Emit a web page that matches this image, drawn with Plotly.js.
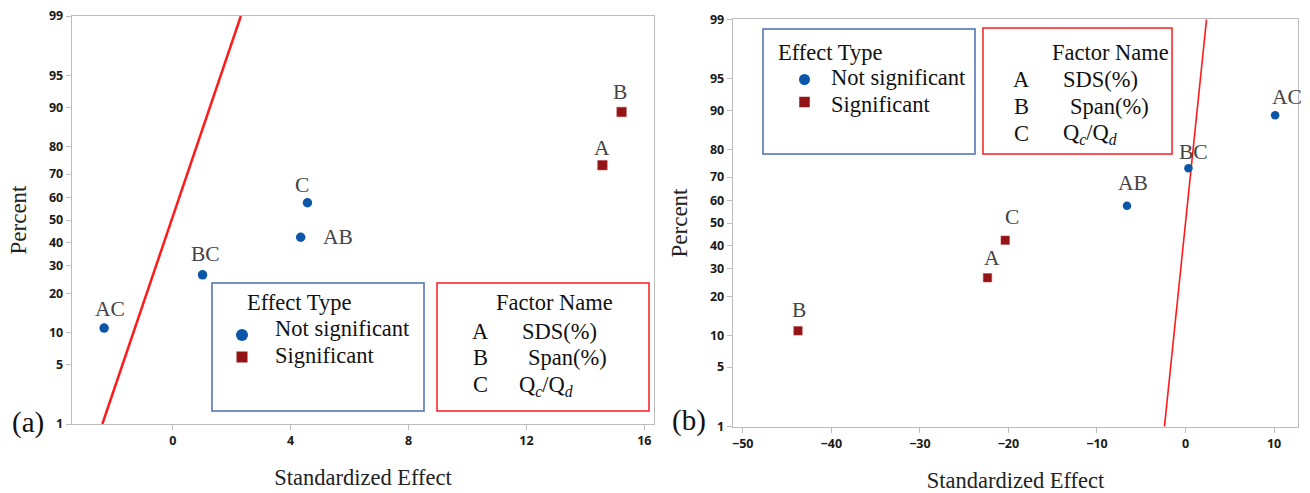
<!DOCTYPE html>
<html>
<head>
<meta charset="utf-8">
<script src="https://cdn.plot.ly/plotly-3.0.1.min.js"></script>
<style>html,body{margin:0;padding:0;background:#fff;}#chart{width:1310px;height:493px;}</style>
</head>
<body>
<div id="chart"></div>
<script>
// ---------- data ----------
const percentTicks = [1, 5, 10, 20, 30, 40, 50, 60, 70, 80, 90, 95, 99];
const percentTickText = ['1', '5', '10', '20', '30', '40', '50', '60', '70', '80', '90', '95', '99'];

// panel (a)
const labelsA = ['AC', 'BC', 'AB', 'C', 'A', 'B'];
const effectA = [-2.33, 1.01, 4.34, 4.57, 14.58, 15.23];
const percentA = [10.9, 26.6, 42.2, 57.8, 73.4, 89.1];
const significantA = [false, false, false, false, true, true];
const refLineEffectA = [-2.39, 2.31];
const refLinePercentA = [1, 99];
const xTicksA = [0, 4, 8, 12, 16];

// panel (b)
const labelsB = ['B', 'A', 'C', 'AB', 'BC', 'AC'];
const effectB = [-43.76, -22.36, -20.36, -6.61, 0.33, 10.12];
const percentB = [10.9, 26.6, 42.2, 57.8, 73.4, 89.1];
const significantB = [true, true, true, false, false, false];
const refLineEffectB = [-2.38, 2.37];
const refLinePercentB = [1, 99];
const xTicksB = [-50, -40, -30, -20, -10, 0, 10];

// legend texts
const effectTypeTitle = 'Effect Type';
const effectTypes = ['Not significant', 'Significant'];
const factorTitle = 'Factor Name';
const factorLetters = ['A', 'B', 'C'];
const factorNames = ['SDS(%)', 'Span(%)', 'Q<sub><i>c</i></sub>/Q<sub><i>d</i></sub>'];

// ---------- normal probability scale ----------
function normInv(p) {
  const a = [-3.969683028665376e+01, 2.209460984245205e+02, -2.759285104469687e+02, 1.383577518672690e+02, -3.066479806614716e+01, 2.506628277459239e+00];
  const b = [-5.447609879822406e+01, 1.615858368580409e+02, -1.556989798598866e+02, 6.680131188771972e+01, -1.328068155288572e+01];
  const c = [-7.784894002430293e-03, -3.223964580411365e-01, -2.400758277161838e+00, -2.549732539343734e+00, 4.374664141464968e+00, 2.938163982698783e+00];
  const d = [7.784695709041462e-03, 3.224671290700398e-01, 2.445134137142996e+00, 3.754408661907416e+00];
  const pl = 0.02425, ph = 1 - pl;
  let q, r;
  if (p < pl) { q = Math.sqrt(-2 * Math.log(p)); return (((((c[0]*q+c[1])*q+c[2])*q+c[3])*q+c[4])*q+c[5]) / ((((d[0]*q+d[1])*q+d[2])*q+d[3])*q+1); }
  if (p <= ph) { q = p - 0.5; r = q*q; return (((((a[0]*r+a[1])*r+a[2])*r+a[3])*r+a[4])*r+a[5])*q / (((((b[0]*r+b[1])*r+b[2])*r+b[3])*r+b[4])*r+1); }
  q = Math.sqrt(-2 * Math.log(1 - p)); return -(((((c[0]*q+c[1])*q+c[2])*q+c[3])*q+c[4])*q+c[5]) / ((((d[0]*q+d[1])*q+d[2])*q+d[3])*q+1);
}
const z = pct => normInv(pct / 100);

// ---------- styles ----------
const W = 1310, H = 493;
const PX = x => x / W, PY = y => 1 - y / H;
const BLUE = '#0b56a8', DARKRED = '#921414', RED = '#ff1a1a';
const SERIF = 'Liberation Serif, Times New Roman, serif';
const SANS = 'Open Sans, Noto Sans, sans-serif';
const AXIS_GRAY = '#bdbdbd';
const LEG = 22.5;

// label offsets in px (dx, dy up)
const labelOffA = {AC: [6, 19], BC: [3, 21], AB: [37, 0], C: [-5, 18], A: [0, 17], B: [-2, 20]};
const labelOffB = {B: [1, 21], A: [4, 20], C: [7, 23], AB: [6, 23], BC: [5, 16], AC: [12, 18]};

function pointTraces(eff, pct, sig, xa, ya, size) {
  const idxN = [], idxS = [];
  sig.forEach((s, i) => (s ? idxS : idxN).push(i));
  return [
    {type: 'scatter', mode: 'markers', xaxis: xa, yaxis: ya, x: idxN.map(i => eff[i]), y: idxN.map(i => z(pct[i])),
     marker: {symbol: 'circle', size: size, color: BLUE}, hoverinfo: 'skip'},
    {type: 'scatter', mode: 'markers', xaxis: xa, yaxis: ya, x: idxS.map(i => eff[i]), y: idxS.map(i => z(pct[i])),
     marker: {symbol: 'square', size: size, color: DARKRED, line: {color: '#b84a4a', width: 0.6}}, hoverinfo: 'skip'}
  ];
}

const data = [
  {type: 'scatter', mode: 'lines', xaxis: 'x', yaxis: 'y', x: refLineEffectA, y: refLinePercentA.map(z),
   line: {color: RED, width: 2.5}, hoverinfo: 'skip'},
  ...pointTraces(effectA, percentA, significantA, 'x', 'y', 9.5),
  {type: 'scatter', mode: 'lines', xaxis: 'x2', yaxis: 'y2', x: refLineEffectB, y: refLinePercentB.map(z),
   line: {color: RED, width: 1.6}, hoverinfo: 'skip'},
  ...pointTraces(effectB, percentB, significantB, 'x2', 'y2', 8.5)
];

const annotations = [];
const shapes = [];
labelsA.forEach((lab, i) => annotations.push({xref: 'x', yref: 'y', x: effectA[i], y: z(percentA[i]), text: lab, showarrow: false,
  xshift: labelOffA[lab][0], yshift: labelOffA[lab][1], font: {family: SERIF, size: 21.5, color: '#444'}}));
labelsB.forEach((lab, i) => annotations.push({xref: 'x2', yref: 'y2', x: effectB[i], y: z(percentB[i]), text: lab, showarrow: false,
  xshift: labelOffB[lab][0], yshift: labelOffB[lab][1], font: {family: SERIF, size: 21.5, color: '#444'}}));

function txt(x, y, text, anchor, size) {
  annotations.push({xref: 'paper', yref: 'paper', x: PX(x), y: PY(y), text: text, showarrow: false,
    xanchor: anchor || 'left', yanchor: 'middle', font: {family: SERIF, size: size || LEG, color: '#111'}});
}
function box(x0, y0, x1, y1, color) {
  shapes.push({type: 'rect', xref: 'paper', yref: 'paper', x0: PX(x0), x1: PX(x1), y0: PY(y1), y1: PY(y0),
    line: {color: color, width: 1.5}, fillcolor: 'rgba(255,255,255,0)'});
}
function legendMarker(cx, cy, s, kind, color) {
  shapes.push({type: kind, xref: 'paper', yref: 'paper', x0: PX(cx - s / 2), x1: PX(cx + s / 2), y0: PY(cy + s / 2), y1: PY(cy - s / 2),
    line: {width: 0}, fillcolor: color});
}

// legend panel (a)
box(212, 283, 424, 411, '#4a6db3');
txt(245, 302, effectTypeTitle);
legendMarker(242, 335, 12, 'circle', BLUE);
legendMarker(242, 357, 11, 'rect', DARKRED);
txt(273, 328, effectTypes[0]);
txt(273, 355, effectTypes[1]);
box(437, 283, 649, 411, RED);
txt(494, 302, factorTitle);
[331, 357, 384].forEach((yy, i) => { txt(480, yy, factorLetters[i], 'center'); });
txt(520, 331, factorNames[0]); txt(526, 357, factorNames[1]); txt(517, 386, factorNames[2]);
txt(28, 422, '(a)', 'center', 29);

// legend panel (b)
box(763, 29, 975, 154, '#4a6db3');
txt(776, 52, effectTypeTitle);
legendMarker(804.5, 79.5, 11, 'circle', BLUE);
legendMarker(804.5, 102, 10.5, 'rect', DARKRED);
txt(829, 78, effectTypes[0]);
txt(829, 104, effectTypes[1]);
box(983, 28, 1172, 154, RED);
txt(1050, 52, factorTitle);
[79, 106, 133].forEach((yy, i) => { txt(1021, yy, factorLetters[i], 'center'); });
txt(1061, 79, factorNames[0]); txt(1068, 106, factorNames[1]); txt(1061, 134, factorNames[2]);
txt(689, 420, '(b)', 'center', 29);

const baseX = {showline: true, mirror: true, linecolor: AXIS_GRAY, linewidth: 1.3, ticks: 'outside', ticklen: 5, tickwidth: 1,
  tickcolor: AXIS_GRAY, showgrid: false, zeroline: false, automargin: false, fixedrange: true,
  tickfont: {family: SANS, size: 12.5, color: '#1a1a1a', weight: 'bold'}};
const yTicks = percentTicks.map(z);
const xTitleFont = {family: SERIF, size: 22.5, color: '#222'};
const yTitleFont = {family: SERIF, size: 23, color: '#222'};

const layout = {
  width: W, height: H, margin: {l: 0, r: 0, t: 0, b: 0}, paper_bgcolor: '#fff', plot_bgcolor: '#fff', showlegend: false,
  xaxis: Object.assign({}, baseX, {domain: [PX(72), PX(654)], range: [-3.42, 16.33], tickvals: xTicksA, anchor: 'y',
    title: {text: 'Standardized Effect', font: xTitleFont, standoff: 21}}),
  yaxis: Object.assign({}, baseX, {domain: [PY(424), PY(16)], range: [z(1), z(99)], tickvals: yTicks, ticktext: percentTickText, anchor: 'x',
    title: {text: 'Percent', font: yTitleFont, standoff: 16}}),
  xaxis2: Object.assign({}, baseX, {domain: [PX(733), PX(1298)], range: [-51.1, 12.7], tickvals: xTicksB, anchor: 'y2',
    title: {text: 'Standardized Effect', font: xTitleFont, standoff: 21}}),
  yaxis2: Object.assign({}, baseX, {domain: [PY(426.7), PY(19.3)], range: [z(1), z(99)], tickvals: yTicks, ticktext: percentTickText, anchor: 'x2',
    title: {text: 'Percent', font: yTitleFont, standoff: 16}}),
  annotations: annotations,
  shapes: shapes
};

Plotly.newPlot('chart', data, layout, {displayModeBar: false, staticPlot: true});
</script>
</body>
</html>
